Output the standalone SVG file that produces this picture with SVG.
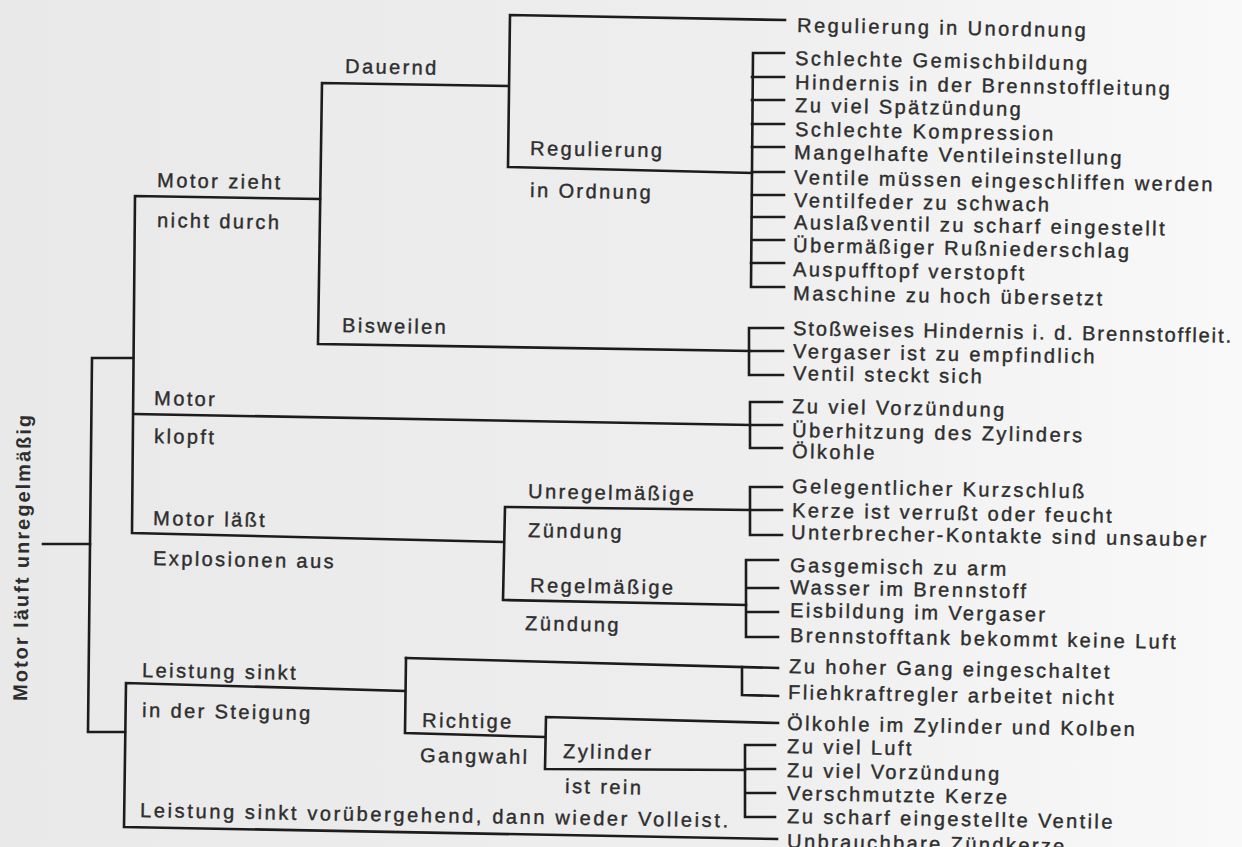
<svg xmlns="http://www.w3.org/2000/svg" width="1242" height="847" viewBox="0 0 1242 847">
<defs>
<linearGradient id="bg" x1="0" y1="0" x2="1" y2="0">
<stop offset="0" stop-color="#e9e9e9"/>
<stop offset="0.6" stop-color="#eeeeee"/>
<stop offset="1" stop-color="#f9f9f9"/>
</linearGradient>
<style>
.ln{fill:none;stroke:#1c1c1c;stroke-width:2.6;stroke-linejoin:miter;stroke-linecap:square}
.t{font-family:"Liberation Sans",Arial,sans-serif;font-size:20px;letter-spacing:2.4px;fill:#2e2e2e;stroke:#2e2e2e;stroke-width:0.4px;transform:rotate(1deg);transform-box:fill-box;transform-origin:0 100%}
.fit{letter-spacing:0px}
.root{font-family:"Liberation Sans",Arial,sans-serif;font-size:20px;font-weight:bold;letter-spacing:2px;fill:#2e2e2e}
</style>
</defs>
<rect x="0" y="0" width="1242" height="847" fill="url(#bg)"/>

<g id="connectors" class="ln">
<path d="M43 544 H90"/>
<path d="M133 358 L92 358 L88 732 L125 732"/>
<path d="M320 199 L135 196 L132 533 L503 542"/>
<path d="M134 414 L750 425"/>
<path d="M508 86 L322 83 L318 344 L750 351"/>
<path d="M785 20 L510 15 L508 167 L752 173"/>
<path d="M784 53 L753 53 L751 287 L784 287"/>
<path d="M752 77 H784 M752 100 H784 M752 124 H784 M752 147 H784 M752 172 H784 M752 195 H784 M752 217 H784 M752 240 H784 M751 263 H784"/>
<path d="M783 328 L749 328 L749 375 L783 375 M749 351 H783"/>
<path d="M782 402 L750 402 L750 448 L782 448 M750 425 H782"/>
<path d="M750 510 L505 507 L503 600 L746 605"/>
<path d="M782 487 L750 487 L750 535 L782 535 M750 510 H782"/>
<path d="M778 560 L746 560 L746 637 L778 637 M746 588 H778 M746 612 H778"/>
<path d="M405 691 L126 683 L124 827 L777 839"/>
<path d="M406 658 L778 668"/>
<path d="M742 667 L742 695 L778 696"/>
<path d="M545 737 L405 733 L406 658"/>
<path d="M778 723 L546 717 L545 769 L745 770"/>
<path d="M775 745 L745 745 L745 817 L775 817 M745 769 H775 M745 793 H775"/>
</g>

<g id="n-root"><text class="root" x="29" y="557" text-anchor="middle" transform="rotate(-89.2 29 557)">Motor läuft unregelmäßig</text></g>

<g id="n-zieht"><text class="t" x="157" y="187">Motor zieht</text><text class="t" x="157" y="227">nicht durch</text></g>
<g id="n-dauernd"><text class="t" x="345" y="73">Dauernd</text></g>
<g id="n-unordnung"><text class="t" x="797" y="32">Regulierung in Unordnung</text></g>
<g id="n-ordnung"><text class="t" x="530" y="155">Regulierung</text><text class="t" x="530" y="197">in Ordnung</text></g>
<g id="n-ordnung-causes">
<text class="t" x="795" y="65">Schlechte Gemischbildung</text>
<text class="t" x="795" y="89">Hindernis in der Brennstoffleitung</text>
<text class="t" x="795" y="112">Zu viel Spätzündung</text>
<text class="t" x="795" y="136">Schlechte Kompression</text>
<text class="t" x="794" y="159">Mangelhafte Ventileinstellung</text>
<text class="t" x="794" y="184">Ventile müssen eingeschliffen werden</text>
<text class="t" x="794" y="207">Ventilfeder zu schwach</text>
<text class="t" x="794" y="229">Auslaßventil zu scharf eingestellt</text>
<text class="t" x="793" y="252">Übermäßiger Rußniederschlag</text>
<text class="t" x="793" y="276">Auspufftopf verstopft</text>
<text class="t" x="793" y="300">Maschine zu hoch übersetzt</text>
</g>
<g id="n-bisweilen"><text class="t" x="342" y="332">Bisweilen</text></g>
<g id="n-bisweilen-causes">
<text class="t fit" x="793" y="335" textLength="438" lengthAdjust="spacing">Stoßweises Hindernis i. d. Brennstoffleit.</text>
<text class="t" x="793" y="358">Vergaser ist zu empfindlich</text>
<text class="t" x="793" y="380">Ventil steckt sich</text>
</g>
<g id="n-klopft"><text class="t" x="154" y="405">Motor</text><text class="t" x="154" y="443">klopft</text></g>
<g id="n-klopft-causes">
<text class="t" x="792" y="413">Zu viel Vorzündung</text>
<text class="t" x="792" y="437">Überhitzung des Zylinders</text>
<text class="t" x="792" y="458">Ölkohle</text>
</g>
<g id="n-laesst"><text class="t" x="153" y="525">Motor läßt</text><text class="t" x="153" y="565">Explosionen aus</text></g>
<g id="n-unregel"><text class="t" x="528" y="498">Unregelmäßige</text><text class="t" x="528" y="537">Zündung</text></g>
<g id="n-unregel-causes">
<text class="t" x="792" y="493">Gelegentlicher Kurzschluß</text>
<text class="t" x="792" y="517">Kerze ist verrußt oder feucht</text>
<text class="t" x="791" y="539">Unterbrecher-Kontakte sind unsauber</text>
</g>
<g id="n-regel"><text class="t" x="530" y="592">Regelmäßige</text><text class="t" x="525" y="630">Zündung</text></g>
<g id="n-regel-causes">
<text class="t" x="790" y="572">Gasgemisch zu arm</text>
<text class="t" x="790" y="594">Wasser im Brennstoff</text>
<text class="t" x="790" y="617">Eisbildung im Vergaser</text>
<text class="t" x="790" y="642">Brennstofftank bekommt keine Luft</text>
</g>
<g id="n-steigung"><text class="t" x="142" y="677">Leistung sinkt</text><text class="t" x="142" y="717">in der Steigung</text></g>
<g id="n-steigung-causes">
<text class="t" x="789" y="673">Zu hoher Gang eingeschaltet</text>
<text class="t" x="788" y="699">Fliehkraftregler arbeitet nicht</text>
</g>
<g id="n-gangwahl"><text class="t" x="422" y="727">Richtige</text><text class="t" x="420" y="762">Gangwahl</text></g>
<g id="n-oelkohle"><text class="t" x="787" y="730">Ölkohle im Zylinder und Kolben</text></g>
<g id="n-zylinder"><text class="t" x="563" y="758">Zylinder</text><text class="t" x="565" y="793">ist rein</text></g>
<g id="n-zylinder-causes">
<text class="t" x="787" y="753">Zu viel Luft</text>
<text class="t" x="787" y="777">Zu viel Vorzündung</text>
<text class="t" x="787" y="800">Verschmutzte Kerze</text>
<text class="t" x="787" y="823">Zu scharf eingestellte Ventile</text>
</g>
<g id="n-voruebergehend"><text class="t fit" x="140" y="817" textLength="588" lengthAdjust="spacing">Leistung sinkt vorübergehend, dann wieder Volleist.</text></g>
<g id="n-zuendkerze"><text class="t" x="787" y="848">Unbrauchbare Zündkerze</text></g>
</svg>
